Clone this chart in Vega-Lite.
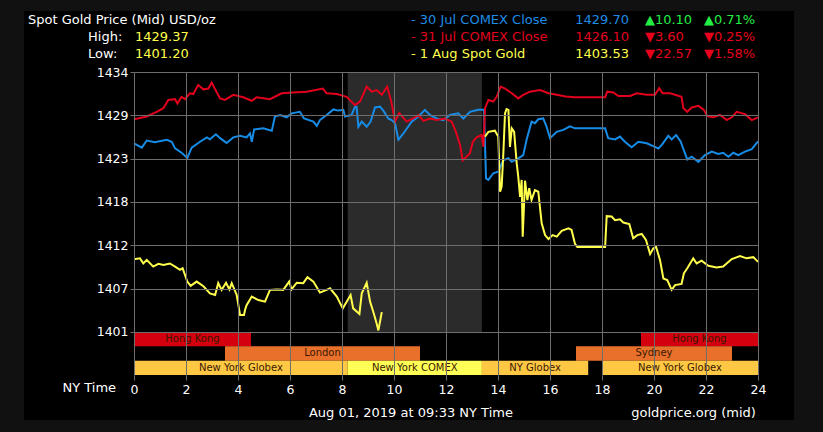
{
  "$schema": "https://vega.github.io/schema/vega-lite/v6.json",
  "width": 624,
  "height": 303,
  "autosize": {"type": "none"},
  "padding": {"left": 134, "top": 72, "right": 65, "bottom": 57},
  "background": "#111111",
  "config": {"view": {"stroke": null}, "font": "DejaVu Sans", "text": {"font": "DejaVu Sans"}},
  "resolve": {"scale": {"color": "independent"}},
  "encoding": {
    "x": {"field": "t", "type": "quantitative", "scale": {"domain": [0, 24], "nice": false, "zero": false},
      "axis": {"values": [0,2,4,6,8,10,12,14,16,18,20,22,24], "title": null, "grid": true, "gridColor": "#6e6e6e", "gridWidth": 1, "tickColor": "#6e6e6e", "tickSize": 5, "domain": false, "labelColor": "#ffffff", "labelFont": "DejaVu Sans", "labelFontSize": 12.5, "labelPadding": 3, "zindex": 1, "labelFlush": false}},
    "y": {"field": "p", "type": "quantitative", "scale": {"domain": [1395.5423, 1434], "nice": false, "zero": false},
      "axis": {"values": [1401, 1406.5, 1412, 1417.5, 1423, 1428.5, 1434], "labelExpr": "format(round(datum.value), 'd')", "title": null, "grid": true, "gridColor": "#6e6e6e", "gridWidth": 1, "tickColor": "#6e6e6e", "tickSize": 4, "domain": false, "labelColor": "#ffffff", "labelFont": "DejaVu Sans", "labelFontSize": 12.5, "labelPadding": 2, "zindex": 1, "labelFlush": false}}
  },
  "layer": [
    {
      "data": {"values": [{"t": -4.231, "t2": 25.385, "p": 1389.83, "p2": 1441.74}]},
      "mark": {"type": "rect", "color": "#000000"},
      "encoding": {"x2": {"field": "t2"}, "y2": {"field": "p2"}}
    },
    {
      "data": {"values": [{"t": 8.22, "t2": 13.38, "p": 1401, "p2": 1434}]},
      "mark": {"type": "rect", "color": "#2b2b2b"},
      "encoding": {"x2": {"field": "t2"}, "y2": {"field": "p2"}}
    },
    {
      "data": {"values": [
        {"name": "Hong Kong", "k": "HK", "t": 0, "t2": 4.5, "p": 1399.181, "p2": 1401},
        {"name": "Hong Kong", "k": "HK", "t": 19.5, "t2": 24, "p": 1399.181, "p2": 1401},
        {"name": "London", "k": "EU", "t": 3.5, "t2": 11.0, "p": 1397.362, "p2": 1399.181},
        {"name": "Sydney", "k": "EU", "t": 17.0, "t2": 23.0, "p": 1397.362, "p2": 1399.181},
        {"name": "New York Globex", "k": "GX", "t": 0, "t2": 8.22, "p": 1395.5423, "p2": 1397.362},
        {"name": "New York COMEX", "k": "CX", "t": 8.22, "t2": 13.38, "p": 1395.5423, "p2": 1397.362},
        {"name": "NY Globex", "k": "GX", "t": 13.38, "t2": 17.47, "p": 1395.5423, "p2": 1397.362},
        {"name": "New York Globex", "k": "GX", "t": 18.0, "t2": 24, "p": 1395.5423, "p2": 1397.362}
      ]},
      "transform": [
        {"calculate": "(datum.t + datum.t2) / 2", "as": "tm"},
        {"calculate": "(datum.p + datum.p2) / 2", "as": "pm"}
      ],
      "layer": [
        {
          "mark": {"type": "rect"},
          "encoding": {
            "x2": {"field": "t2"}, "y2": {"field": "p2"},
            "color": {"field": "k", "type": "nominal", "legend": null,
              "scale": {"domain": ["HK", "EU", "GX", "CX"], "range": ["#d4000f", "#e9702b", "#ffc844", "#ffff55"]}}
          }
        },
        {
          "mark": {"type": "text", "color": "#3a1800", "fontSize": 10, "align": "center", "baseline": "middle"},
          "encoding": {"x": {"field": "tm", "type": "quantitative"}, "y": {"field": "pm", "type": "quantitative"}, "text": {"field": "name"}}
        }
      ]
    },
    {
      "data": {"name": "lines"},
      "mark": {"type": "line", "strokeWidth": 2, "interpolate": "linear"},
      "encoding": {
        "detail": {"field": "g"},
        "color": {"field": "s", "type": "nominal", "legend": null,
          "scale": {"domain": ["30 Jul COMEX Close", "31 Jul COMEX Close", "1 Aug Spot Gold"], "range": ["#168ce6", "#e2001c", "#ffff4c"]}}
      }
    },
    {
      "data": {"values": [
        {"label": "Spot Gold Price (Mid) USD/oz", "t": -4.077, "p": 1440.54},
        {"label": "High:", "t": -1.769, "p": 1438.40},
        {"label": "Low:", "t": -1.769, "p": 1436.28},
        {"label": "Aug 01, 2019 at 09:33 NY Time", "t": 6.73, "p": 1390.72}
      ]},
      "mark": {"type": "text", "color": "#ffffff", "fontSize": 13, "align": "left", "baseline": "middle"},
      "encoding": {"text": {"field": "label"}}
    },
    {
      "data": {"values": [
        {"label": "1429.37", "t": 0.038, "p": 1438.40},
        {"label": "1401.20", "t": 0.038, "p": 1436.28}
      ]},
      "mark": {"type": "text", "color": "#ffff4c", "fontSize": 13, "align": "left", "baseline": "middle"},
      "encoding": {"text": {"field": "label"}}
    },
    {
      "data": {"values": [
        {"label": "- 30 Jul COMEX Close", "s": "30 Jul COMEX Close", "t": 10.654, "p": 1440.54},
        {"label": "- 31 Jul COMEX Close", "s": "31 Jul COMEX Close", "t": 10.654, "p": 1438.40},
        {"label": "- 1 Aug Spot Gold", "s": "1 Aug Spot Gold", "t": 10.654, "p": 1436.28}
      ]},
      "mark": {"type": "text", "fontSize": 13, "align": "left", "baseline": "middle"},
      "encoding": {"text": {"field": "label"},
        "color": {"field": "s", "type": "nominal", "legend": null,
          "scale": {"domain": ["30 Jul COMEX Close", "31 Jul COMEX Close", "1 Aug Spot Gold"], "range": ["#1e8ce6", "#e2001c", "#ffff4c"]}}}
    },
    {
      "data": {"values": [
        {"label": "1429.70", "s": "30 Jul COMEX Close", "t": 19.04, "p": 1440.54},
        {"label": "1426.10", "s": "31 Jul COMEX Close", "t": 19.04, "p": 1438.40},
        {"label": "1403.53", "s": "1 Aug Spot Gold", "t": 19.04, "p": 1436.28}
      ]},
      "mark": {"type": "text", "fontSize": 13, "align": "right", "baseline": "middle"},
      "encoding": {"text": {"field": "label"},
        "color": {"field": "s", "type": "nominal", "legend": null,
          "scale": {"domain": ["30 Jul COMEX Close", "31 Jul COMEX Close", "1 Aug Spot Gold"], "range": ["#1e8ce6", "#e2001c", "#ffff4c"]}}}
    },
    {
      "data": {"values": [
        {"label": "▲10.10", "t": 19.65, "p": 1440.54},
        {"label": "▲0.71%", "t": 21.92, "p": 1440.54}
      ]},
      "mark": {"type": "text", "color": "#22ee44", "fontSize": 13, "align": "left", "baseline": "middle"},
      "encoding": {"text": {"field": "label"}}
    },
    {
      "data": {"values": [
        {"label": "▼3.60", "t": 19.65, "p": 1438.40},
        {"label": "▼0.25%", "t": 21.92, "p": 1438.40},
        {"label": "▼22.57", "t": 19.65, "p": 1436.28},
        {"label": "▼1.58%", "t": 21.92, "p": 1436.28}
      ]},
      "mark": {"type": "text", "color": "#e8001c", "fontSize": 13, "align": "left", "baseline": "middle"},
      "encoding": {"text": {"field": "label"}}
    },
    {
      "data": {"values": [
        {"label": "NY Time", "t": -0.69, "p": 1393.89},
        {"label": "goldprice.org (mid)", "t": 23.92, "p": 1390.72}
      ]},
      "mark": {"type": "text", "color": "#ffffff", "fontSize": 13, "align": "right", "baseline": "middle"},
      "encoding": {"text": {"field": "label"}}
    }
  ],
  "datasets": {
    "lines": [
      {"s":"30 Jul COMEX Close","g":"30","t":0.0,"p":1424.95},{"s":"30 Jul COMEX Close","g":"30","t":0.3,"p":1424.4},{"s":"30 Jul COMEX Close","g":"30","t":0.49,"p":1425.3},{"s":"30 Jul COMEX Close","g":"30","t":0.8,"p":1425.1},{"s":"30 Jul COMEX Close","g":"30","t":1.26,"p":1425.4},{"s":"30 Jul COMEX Close","g":"30","t":1.45,"p":1425.15},{"s":"30 Jul COMEX Close","g":"30","t":1.58,"p":1424.3},{"s":"30 Jul COMEX Close","g":"30","t":1.83,"p":1423.75},{"s":"30 Jul COMEX Close","g":"30","t":2.05,"p":1423.1},{"s":"30 Jul COMEX Close","g":"30","t":2.22,"p":1424.4},{"s":"30 Jul COMEX Close","g":"30","t":2.54,"p":1425.15},{"s":"30 Jul COMEX Close","g":"30","t":2.8,"p":1425.7},{"s":"30 Jul COMEX Close","g":"30","t":2.92,"p":1425.45},{"s":"30 Jul COMEX Close","g":"30","t":3.15,"p":1426.1},{"s":"30 Jul COMEX Close","g":"30","t":3.31,"p":1425.6},{"s":"30 Jul COMEX Close","g":"30","t":3.56,"p":1425.0},{"s":"30 Jul COMEX Close","g":"30","t":3.82,"p":1425.7},{"s":"30 Jul COMEX Close","g":"30","t":4.08,"p":1425.9},{"s":"30 Jul COMEX Close","g":"30","t":4.33,"p":1425.7},{"s":"30 Jul COMEX Close","g":"30","t":4.46,"p":1426.2},{"s":"30 Jul COMEX Close","g":"30","t":4.53,"p":1425.15},{"s":"30 Jul COMEX Close","g":"30","t":4.62,"p":1426.7},{"s":"30 Jul COMEX Close","g":"30","t":4.97,"p":1426.85},{"s":"30 Jul COMEX Close","g":"30","t":5.3,"p":1426.55},{"s":"30 Jul COMEX Close","g":"30","t":5.42,"p":1428.35},{"s":"30 Jul COMEX Close","g":"30","t":5.62,"p":1428.55},{"s":"30 Jul COMEX Close","g":"30","t":5.87,"p":1428.25},{"s":"30 Jul COMEX Close","g":"30","t":6.06,"p":1428.75},{"s":"30 Jul COMEX Close","g":"30","t":6.38,"p":1428.95},{"s":"30 Jul COMEX Close","g":"30","t":6.54,"p":1428.1},{"s":"30 Jul COMEX Close","g":"30","t":6.9,"p":1427.7},{"s":"30 Jul COMEX Close","g":"30","t":7.03,"p":1427.15},{"s":"30 Jul COMEX Close","g":"30","t":7.15,"p":1427.9},{"s":"30 Jul COMEX Close","g":"30","t":7.41,"p":1428.55},{"s":"30 Jul COMEX Close","g":"30","t":7.67,"p":1429.25},{"s":"30 Jul COMEX Close","g":"30","t":7.86,"p":1429.1},{"s":"30 Jul COMEX Close","g":"30","t":8.05,"p":1429.2},{"s":"30 Jul COMEX Close","g":"30","t":8.12,"p":1428.35},{"s":"30 Jul COMEX Close","g":"30","t":8.37,"p":1428.55},{"s":"30 Jul COMEX Close","g":"30","t":8.5,"p":1429.6},{"s":"30 Jul COMEX Close","g":"30","t":8.56,"p":1429.6},{"s":"30 Jul COMEX Close","g":"30","t":8.63,"p":1427.05},{"s":"30 Jul COMEX Close","g":"30","t":8.76,"p":1427.7},{"s":"30 Jul COMEX Close","g":"30","t":8.95,"p":1427.05},{"s":"30 Jul COMEX Close","g":"30","t":9.1,"p":1427.7},{"s":"30 Jul COMEX Close","g":"30","t":9.27,"p":1429.5},{"s":"30 Jul COMEX Close","g":"30","t":9.46,"p":1429.6},{"s":"30 Jul COMEX Close","g":"30","t":9.59,"p":1429.1},{"s":"30 Jul COMEX Close","g":"30","t":9.78,"p":1428.1},{"s":"30 Jul COMEX Close","g":"30","t":9.91,"p":1427.9},{"s":"30 Jul COMEX Close","g":"30","t":10.04,"p":1427.5},{"s":"30 Jul COMEX Close","g":"30","t":10.17,"p":1425.4},{"s":"30 Jul COMEX Close","g":"30","t":10.36,"p":1426.2},{"s":"30 Jul COMEX Close","g":"30","t":10.68,"p":1427.7},{"s":"30 Jul COMEX Close","g":"30","t":10.94,"p":1428.35},{"s":"30 Jul COMEX Close","g":"30","t":11.19,"p":1429.2},{"s":"30 Jul COMEX Close","g":"30","t":11.38,"p":1428.55},{"s":"30 Jul COMEX Close","g":"30","t":11.64,"p":1428.1},{"s":"30 Jul COMEX Close","g":"30","t":11.9,"p":1427.9},{"s":"30 Jul COMEX Close","g":"30","t":12.15,"p":1428.55},{"s":"30 Jul COMEX Close","g":"30","t":12.47,"p":1428.75},{"s":"30 Jul COMEX Close","g":"30","t":12.67,"p":1428.1},{"s":"30 Jul COMEX Close","g":"30","t":12.92,"p":1428.95},{"s":"30 Jul COMEX Close","g":"30","t":13.24,"p":1429.2},{"s":"30 Jul COMEX Close","g":"30","t":13.46,"p":1429.2},{"s":"30 Jul COMEX Close","g":"30","t":13.54,"p":1420.5},{"s":"30 Jul COMEX Close","g":"30","t":13.63,"p":1420.3},{"s":"30 Jul COMEX Close","g":"30","t":13.82,"p":1421.15},{"s":"30 Jul COMEX Close","g":"30","t":14.01,"p":1421.35},{"s":"30 Jul COMEX Close","g":"30","t":14.2,"p":1422.8},{"s":"30 Jul COMEX Close","g":"30","t":14.4,"p":1423.05},{"s":"30 Jul COMEX Close","g":"30","t":14.53,"p":1422.6},{"s":"30 Jul COMEX Close","g":"30","t":14.78,"p":1423.05},{"s":"30 Jul COMEX Close","g":"30","t":14.97,"p":1423.45},{"s":"30 Jul COMEX Close","g":"30","t":15.1,"p":1425.4},{"s":"30 Jul COMEX Close","g":"30","t":15.29,"p":1427.7},{"s":"30 Jul COMEX Close","g":"30","t":15.42,"p":1427.5},{"s":"30 Jul COMEX Close","g":"30","t":15.55,"p":1428.0},{"s":"30 Jul COMEX Close","g":"30","t":15.74,"p":1428.1},{"s":"30 Jul COMEX Close","g":"30","t":15.87,"p":1427.05},{"s":"30 Jul COMEX Close","g":"30","t":16.0,"p":1425.6},{"s":"30 Jul COMEX Close","g":"30","t":16.26,"p":1426.4},{"s":"30 Jul COMEX Close","g":"30","t":16.51,"p":1426.65},{"s":"30 Jul COMEX Close","g":"30","t":16.77,"p":1427.1},{"s":"30 Jul COMEX Close","g":"30","t":16.96,"p":1426.85},{"s":"30 Jul COMEX Close","g":"30","t":18.12,"p":1426.85},{"s":"30 Jul COMEX Close","g":"30","t":18.24,"p":1425.6},{"s":"30 Jul COMEX Close","g":"30","t":18.5,"p":1425.45},{"s":"30 Jul COMEX Close","g":"30","t":18.69,"p":1425.8},{"s":"30 Jul COMEX Close","g":"30","t":18.88,"p":1425.15},{"s":"30 Jul COMEX Close","g":"30","t":19.14,"p":1424.45},{"s":"30 Jul COMEX Close","g":"30","t":19.4,"p":1425.15},{"s":"30 Jul COMEX Close","g":"30","t":19.72,"p":1424.95},{"s":"30 Jul COMEX Close","g":"30","t":19.97,"p":1424.6},{"s":"30 Jul COMEX Close","g":"30","t":20.17,"p":1424.3},{"s":"30 Jul COMEX Close","g":"30","t":20.3,"p":1424.75},{"s":"30 Jul COMEX Close","g":"30","t":20.55,"p":1425.9},{"s":"30 Jul COMEX Close","g":"30","t":20.68,"p":1425.45},{"s":"30 Jul COMEX Close","g":"30","t":20.85,"p":1426.0},{"s":"30 Jul COMEX Close","g":"30","t":21.03,"p":1425.15},{"s":"30 Jul COMEX Close","g":"30","t":21.13,"p":1424.2},{"s":"30 Jul COMEX Close","g":"30","t":21.28,"p":1422.9},{"s":"30 Jul COMEX Close","g":"30","t":21.45,"p":1423.25},{"s":"30 Jul COMEX Close","g":"30","t":21.71,"p":1422.6},{"s":"30 Jul COMEX Close","g":"30","t":21.96,"p":1423.45},{"s":"30 Jul COMEX Close","g":"30","t":22.22,"p":1423.9},{"s":"30 Jul COMEX Close","g":"30","t":22.47,"p":1423.6},{"s":"30 Jul COMEX Close","g":"30","t":22.66,"p":1423.75},{"s":"30 Jul COMEX Close","g":"30","t":22.86,"p":1423.25},{"s":"30 Jul COMEX Close","g":"30","t":23.05,"p":1423.75},{"s":"30 Jul COMEX Close","g":"30","t":23.24,"p":1423.45},{"s":"30 Jul COMEX Close","g":"30","t":23.5,"p":1423.9},{"s":"30 Jul COMEX Close","g":"30","t":23.76,"p":1424.2},{"s":"30 Jul COMEX Close","g":"30","t":24.0,"p":1425.2},

      {"s":"31 Jul COMEX Close","g":"31","t":0.0,"p":1428.0},{"s":"31 Jul COMEX Close","g":"31","t":0.49,"p":1428.35},{"s":"31 Jul COMEX Close","g":"31","t":0.87,"p":1428.95},{"s":"31 Jul COMEX Close","g":"31","t":1.13,"p":1429.4},{"s":"31 Jul COMEX Close","g":"31","t":1.32,"p":1430.45},{"s":"31 Jul COMEX Close","g":"31","t":1.58,"p":1430.55},{"s":"31 Jul COMEX Close","g":"31","t":1.67,"p":1430.0},{"s":"31 Jul COMEX Close","g":"31","t":1.83,"p":1430.85},{"s":"31 Jul COMEX Close","g":"31","t":1.96,"p":1430.55},{"s":"31 Jul COMEX Close","g":"31","t":2.15,"p":1431.3},{"s":"31 Jul COMEX Close","g":"31","t":2.28,"p":1431.2},{"s":"31 Jul COMEX Close","g":"31","t":2.47,"p":1432.35},{"s":"31 Jul COMEX Close","g":"31","t":2.67,"p":1431.8},{"s":"31 Jul COMEX Close","g":"31","t":2.86,"p":1431.9},{"s":"31 Jul COMEX Close","g":"31","t":2.99,"p":1432.65},{"s":"31 Jul COMEX Close","g":"31","t":3.12,"p":1431.8},{"s":"31 Jul COMEX Close","g":"31","t":3.31,"p":1430.65},{"s":"31 Jul COMEX Close","g":"31","t":3.5,"p":1430.45},{"s":"31 Jul COMEX Close","g":"31","t":3.82,"p":1431.1},{"s":"31 Jul COMEX Close","g":"31","t":4.2,"p":1430.8},{"s":"31 Jul COMEX Close","g":"31","t":4.53,"p":1430.35},{"s":"31 Jul COMEX Close","g":"31","t":4.72,"p":1430.8},{"s":"31 Jul COMEX Close","g":"31","t":5.23,"p":1430.55},{"s":"31 Jul COMEX Close","g":"31","t":5.68,"p":1431.3},{"s":"31 Jul COMEX Close","g":"31","t":6.13,"p":1431.4},{"s":"31 Jul COMEX Close","g":"31","t":6.64,"p":1431.5},{"s":"31 Jul COMEX Close","g":"31","t":7.26,"p":1431.9},{"s":"31 Jul COMEX Close","g":"31","t":7.41,"p":1431.3},{"s":"31 Jul COMEX Close","g":"31","t":7.8,"p":1431.2},{"s":"31 Jul COMEX Close","g":"31","t":8.18,"p":1430.85},{"s":"31 Jul COMEX Close","g":"31","t":8.5,"p":1429.8},{"s":"31 Jul COMEX Close","g":"31","t":8.69,"p":1430.25},{"s":"31 Jul COMEX Close","g":"31","t":8.95,"p":1432.15},{"s":"31 Jul COMEX Close","g":"31","t":9.14,"p":1431.5},{"s":"31 Jul COMEX Close","g":"31","t":9.33,"p":1431.7},{"s":"31 Jul COMEX Close","g":"31","t":9.53,"p":1431.1},{"s":"31 Jul COMEX Close","g":"31","t":9.74,"p":1432.15},{"s":"31 Jul COMEX Close","g":"31","t":9.91,"p":1430.0},{"s":"31 Jul COMEX Close","g":"31","t":10.04,"p":1427.7},{"s":"31 Jul COMEX Close","g":"31","t":10.2,"p":1428.8},{"s":"31 Jul COMEX Close","g":"31","t":10.49,"p":1427.7},{"s":"31 Jul COMEX Close","g":"31","t":10.74,"p":1428.1},{"s":"31 Jul COMEX Close","g":"31","t":10.94,"p":1428.55},{"s":"31 Jul COMEX Close","g":"31","t":11.13,"p":1427.8},{"s":"31 Jul COMEX Close","g":"31","t":11.38,"p":1428.1},{"s":"31 Jul COMEX Close","g":"31","t":11.64,"p":1427.9},{"s":"31 Jul COMEX Close","g":"31","t":11.96,"p":1428.1},{"s":"31 Jul COMEX Close","g":"31","t":12.22,"p":1427.7},{"s":"31 Jul COMEX Close","g":"31","t":12.38,"p":1426.4},{"s":"31 Jul COMEX Close","g":"31","t":12.54,"p":1424.75},{"s":"31 Jul COMEX Close","g":"31","t":12.64,"p":1422.8},{"s":"31 Jul COMEX Close","g":"31","t":12.79,"p":1423.25},{"s":"31 Jul COMEX Close","g":"31","t":12.92,"p":1423.7},{"s":"31 Jul COMEX Close","g":"31","t":13.03,"p":1425.15},{"s":"31 Jul COMEX Close","g":"31","t":13.18,"p":1425.7},{"s":"31 Jul COMEX Close","g":"31","t":13.37,"p":1426.0},{"s":"31 Jul COMEX Close","g":"31","t":13.44,"p":1424.5},{"s":"31 Jul COMEX Close","g":"31","t":13.5,"p":1429.4},{"s":"31 Jul COMEX Close","g":"31","t":13.63,"p":1430.45},{"s":"31 Jul COMEX Close","g":"31","t":13.82,"p":1430.25},{"s":"31 Jul COMEX Close","g":"31","t":13.95,"p":1430.85},{"s":"31 Jul COMEX Close","g":"31","t":14.1,"p":1432.15},{"s":"31 Jul COMEX Close","g":"31","t":14.27,"p":1431.9},{"s":"31 Jul COMEX Close","g":"31","t":14.53,"p":1431.3},{"s":"31 Jul COMEX Close","g":"31","t":14.78,"p":1430.65},{"s":"31 Jul COMEX Close","g":"31","t":14.97,"p":1431.1},{"s":"31 Jul COMEX Close","g":"31","t":15.23,"p":1431.5},{"s":"31 Jul COMEX Close","g":"31","t":15.62,"p":1431.7},{"s":"31 Jul COMEX Close","g":"31","t":15.94,"p":1431.3},{"s":"31 Jul COMEX Close","g":"31","t":16.26,"p":1431.1},{"s":"31 Jul COMEX Close","g":"31","t":16.6,"p":1430.9},{"s":"31 Jul COMEX Close","g":"31","t":16.96,"p":1430.8},{"s":"31 Jul COMEX Close","g":"31","t":18.12,"p":1430.8},{"s":"31 Jul COMEX Close","g":"31","t":18.2,"p":1431.5},{"s":"31 Jul COMEX Close","g":"31","t":18.44,"p":1431.4},{"s":"31 Jul COMEX Close","g":"31","t":18.63,"p":1430.95},{"s":"31 Jul COMEX Close","g":"31","t":19.08,"p":1430.95},{"s":"31 Jul COMEX Close","g":"31","t":19.33,"p":1431.3},{"s":"31 Jul COMEX Close","g":"31","t":19.72,"p":1431.1},{"s":"31 Jul COMEX Close","g":"31","t":20.04,"p":1431.1},{"s":"31 Jul COMEX Close","g":"31","t":20.2,"p":1431.95},{"s":"31 Jul COMEX Close","g":"31","t":20.33,"p":1431.3},{"s":"31 Jul COMEX Close","g":"31","t":20.62,"p":1431.3},{"s":"31 Jul COMEX Close","g":"31","t":21.06,"p":1430.85},{"s":"31 Jul COMEX Close","g":"31","t":21.13,"p":1429.4},{"s":"31 Jul COMEX Close","g":"31","t":21.28,"p":1428.95},{"s":"31 Jul COMEX Close","g":"31","t":21.45,"p":1429.5},{"s":"31 Jul COMEX Close","g":"31","t":21.71,"p":1429.7},{"s":"31 Jul COMEX Close","g":"31","t":21.92,"p":1429.2},{"s":"31 Jul COMEX Close","g":"31","t":22.05,"p":1428.4},{"s":"31 Jul COMEX Close","g":"31","t":22.28,"p":1428.25},{"s":"31 Jul COMEX Close","g":"31","t":22.54,"p":1428.55},{"s":"31 Jul COMEX Close","g":"31","t":22.8,"p":1427.9},{"s":"31 Jul COMEX Close","g":"31","t":22.99,"p":1428.25},{"s":"31 Jul COMEX Close","g":"31","t":23.18,"p":1428.95},{"s":"31 Jul COMEX Close","g":"31","t":23.5,"p":1428.65},{"s":"31 Jul COMEX Close","g":"31","t":23.76,"p":1427.9},{"s":"31 Jul COMEX Close","g":"31","t":24.0,"p":1428.25},

      {"s":"1 Aug Spot Gold","g":"1a","t":0.0,"p":1410.23},{"s":"1 Aug Spot Gold","g":"1a","t":0.23,"p":1410.35},{"s":"1 Aug Spot Gold","g":"1a","t":0.36,"p":1409.7},{"s":"1 Aug Spot Gold","g":"1a","t":0.49,"p":1410.15},{"s":"1 Aug Spot Gold","g":"1a","t":0.74,"p":1409.3},{"s":"1 Aug Spot Gold","g":"1a","t":0.94,"p":1409.65},{"s":"1 Aug Spot Gold","g":"1a","t":1.13,"p":1409.5},{"s":"1 Aug Spot Gold","g":"1a","t":1.38,"p":1409.7},{"s":"1 Aug Spot Gold","g":"1a","t":1.58,"p":1409.3},{"s":"1 Aug Spot Gold","g":"1a","t":1.77,"p":1408.9},{"s":"1 Aug Spot Gold","g":"1a","t":1.87,"p":1409.1},{"s":"1 Aug Spot Gold","g":"1a","t":2.05,"p":1407.4},{"s":"1 Aug Spot Gold","g":"1a","t":2.18,"p":1406.85},{"s":"1 Aug Spot Gold","g":"1a","t":2.41,"p":1407.4},{"s":"1 Aug Spot Gold","g":"1a","t":2.67,"p":1406.8},{"s":"1 Aug Spot Gold","g":"1a","t":2.92,"p":1405.9},{"s":"1 Aug Spot Gold","g":"1a","t":3.12,"p":1405.7},{"s":"1 Aug Spot Gold","g":"1a","t":3.24,"p":1407.2},{"s":"1 Aug Spot Gold","g":"1a","t":3.37,"p":1406.35},{"s":"1 Aug Spot Gold","g":"1a","t":3.54,"p":1407.25},{"s":"1 Aug Spot Gold","g":"1a","t":3.67,"p":1406.4},{"s":"1 Aug Spot Gold","g":"1a","t":3.76,"p":1407.2},{"s":"1 Aug Spot Gold","g":"1a","t":3.95,"p":1405.7},{"s":"1 Aug Spot Gold","g":"1a","t":4.08,"p":1403.15},{"s":"1 Aug Spot Gold","g":"1a","t":4.23,"p":1403.15},{"s":"1 Aug Spot Gold","g":"1a","t":4.27,"p":1403.8},{"s":"1 Aug Spot Gold","g":"1a","t":4.33,"p":1404.4},{"s":"1 Aug Spot Gold","g":"1a","t":4.53,"p":1405.5},{"s":"1 Aug Spot Gold","g":"1a","t":4.78,"p":1405.05},{"s":"1 Aug Spot Gold","g":"1a","t":5.04,"p":1404.85},{"s":"1 Aug Spot Gold","g":"1a","t":5.23,"p":1406.35},{"s":"1 Aug Spot Gold","g":"1a","t":5.49,"p":1406.4},{"s":"1 Aug Spot Gold","g":"1a","t":5.74,"p":1406.35},{"s":"1 Aug Spot Gold","g":"1a","t":5.97,"p":1407.4},{"s":"1 Aug Spot Gold","g":"1a","t":6.06,"p":1406.4},{"s":"1 Aug Spot Gold","g":"1a","t":6.26,"p":1407.25},{"s":"1 Aug Spot Gold","g":"1a","t":6.51,"p":1407.2},{"s":"1 Aug Spot Gold","g":"1a","t":6.67,"p":1407.95},{"s":"1 Aug Spot Gold","g":"1a","t":6.9,"p":1407.4},{"s":"1 Aug Spot Gold","g":"1a","t":7.15,"p":1406.0},{"s":"1 Aug Spot Gold","g":"1a","t":7.41,"p":1406.35},{"s":"1 Aug Spot Gold","g":"1a","t":7.54,"p":1406.55},{"s":"1 Aug Spot Gold","g":"1a","t":7.8,"p":1405.5},{"s":"1 Aug Spot Gold","g":"1a","t":8.03,"p":1404.0},{"s":"1 Aug Spot Gold","g":"1a","t":8.18,"p":1404.85},{"s":"1 Aug Spot Gold","g":"1a","t":8.33,"p":1405.7},{"s":"1 Aug Spot Gold","g":"1a","t":8.43,"p":1404.0},{"s":"1 Aug Spot Gold","g":"1a","t":8.67,"p":1403.3},{"s":"1 Aug Spot Gold","g":"1a","t":8.76,"p":1405.9},{"s":"1 Aug Spot Gold","g":"1a","t":8.95,"p":1407.25},{"s":"1 Aug Spot Gold","g":"1a","t":9.08,"p":1404.85},{"s":"1 Aug Spot Gold","g":"1a","t":9.2,"p":1403.6},{"s":"1 Aug Spot Gold","g":"1a","t":9.33,"p":1402.1},{"s":"1 Aug Spot Gold","g":"1a","t":9.4,"p":1401.2},{"s":"1 Aug Spot Gold","g":"1a","t":9.53,"p":1403.53},

      {"s":"1 Aug Spot Gold","g":"1b","t":13.5,"p":1425.8},{"s":"1 Aug Spot Gold","g":"1b","t":13.63,"p":1426.4},{"s":"1 Aug Spot Gold","g":"1b","t":13.88,"p":1426.55},{"s":"1 Aug Spot Gold","g":"1b","t":14.01,"p":1425.8},{"s":"1 Aug Spot Gold","g":"1b","t":14.08,"p":1418.8},{"s":"1 Aug Spot Gold","g":"1b","t":14.14,"p":1419.45},{"s":"1 Aug Spot Gold","g":"1b","t":14.2,"p":1423.25},{"s":"1 Aug Spot Gold","g":"1b","t":14.27,"p":1428.75},{"s":"1 Aug Spot Gold","g":"1b","t":14.33,"p":1429.3},{"s":"1 Aug Spot Gold","g":"1b","t":14.4,"p":1429.2},{"s":"1 Aug Spot Gold","g":"1b","t":14.46,"p":1424.5},{"s":"1 Aug Spot Gold","g":"1b","t":14.53,"p":1426.85},{"s":"1 Aug Spot Gold","g":"1b","t":14.62,"p":1426.4},{"s":"1 Aug Spot Gold","g":"1b","t":14.72,"p":1422.4},{"s":"1 Aug Spot Gold","g":"1b","t":14.78,"p":1420.7},{"s":"1 Aug Spot Gold","g":"1b","t":14.85,"p":1418.15},{"s":"1 Aug Spot Gold","g":"1b","t":14.91,"p":1420.3},{"s":"1 Aug Spot Gold","g":"1b","t":14.95,"p":1413.1},{"s":"1 Aug Spot Gold","g":"1b","t":15.04,"p":1420.2},{"s":"1 Aug Spot Gold","g":"1b","t":15.13,"p":1417.75},{"s":"1 Aug Spot Gold","g":"1b","t":15.2,"p":1419.25},{"s":"1 Aug Spot Gold","g":"1b","t":15.29,"p":1417.75},{"s":"1 Aug Spot Gold","g":"1b","t":15.42,"p":1419.0},{"s":"1 Aug Spot Gold","g":"1b","t":15.55,"p":1418.8},{"s":"1 Aug Spot Gold","g":"1b","t":15.68,"p":1414.8},{"s":"1 Aug Spot Gold","g":"1b","t":15.81,"p":1413.3},{"s":"1 Aug Spot Gold","g":"1b","t":15.94,"p":1412.8},{"s":"1 Aug Spot Gold","g":"1b","t":16.1,"p":1413.3},{"s":"1 Aug Spot Gold","g":"1b","t":16.26,"p":1413.1},{"s":"1 Aug Spot Gold","g":"1b","t":16.45,"p":1413.85},{"s":"1 Aug Spot Gold","g":"1b","t":16.71,"p":1414.15},{"s":"1 Aug Spot Gold","g":"1b","t":16.83,"p":1413.95},{"s":"1 Aug Spot Gold","g":"1b","t":16.96,"p":1412.2},{"s":"1 Aug Spot Gold","g":"1b","t":17.05,"p":1411.8},{"s":"1 Aug Spot Gold","g":"1b","t":18.12,"p":1411.8},{"s":"1 Aug Spot Gold","g":"1b","t":18.18,"p":1415.7},{"s":"1 Aug Spot Gold","g":"1b","t":18.37,"p":1415.65},{"s":"1 Aug Spot Gold","g":"1b","t":18.5,"p":1415.2},{"s":"1 Aug Spot Gold","g":"1b","t":18.69,"p":1415.3},{"s":"1 Aug Spot Gold","g":"1b","t":18.82,"p":1414.9},{"s":"1 Aug Spot Gold","g":"1b","t":19.05,"p":1414.7},{"s":"1 Aug Spot Gold","g":"1b","t":19.2,"p":1412.9},{"s":"1 Aug Spot Gold","g":"1b","t":19.36,"p":1413.3},{"s":"1 Aug Spot Gold","g":"1b","t":19.53,"p":1413.45},{"s":"1 Aug Spot Gold","g":"1b","t":19.69,"p":1412.7},{"s":"1 Aug Spot Gold","g":"1b","t":19.85,"p":1410.9},{"s":"1 Aug Spot Gold","g":"1b","t":19.97,"p":1411.6},{"s":"1 Aug Spot Gold","g":"1b","t":20.08,"p":1411.8},{"s":"1 Aug Spot Gold","g":"1b","t":20.23,"p":1410.15},{"s":"1 Aug Spot Gold","g":"1b","t":20.36,"p":1407.8},{"s":"1 Aug Spot Gold","g":"1b","t":20.51,"p":1407.6},{"s":"1 Aug Spot Gold","g":"1b","t":20.68,"p":1406.35},{"s":"1 Aug Spot Gold","g":"1b","t":20.81,"p":1406.95},{"s":"1 Aug Spot Gold","g":"1b","t":21.06,"p":1407.1},{"s":"1 Aug Spot Gold","g":"1b","t":21.15,"p":1408.45},{"s":"1 Aug Spot Gold","g":"1b","t":21.28,"p":1409.1},{"s":"1 Aug Spot Gold","g":"1b","t":21.51,"p":1410.35},{"s":"1 Aug Spot Gold","g":"1b","t":21.64,"p":1409.7},{"s":"1 Aug Spot Gold","g":"1b","t":21.83,"p":1410.05},{"s":"1 Aug Spot Gold","g":"1b","t":22.09,"p":1409.4},{"s":"1 Aug Spot Gold","g":"1b","t":22.41,"p":1409.2},{"s":"1 Aug Spot Gold","g":"1b","t":22.66,"p":1409.3},{"s":"1 Aug Spot Gold","g":"1b","t":22.99,"p":1410.25},{"s":"1 Aug Spot Gold","g":"1b","t":23.31,"p":1410.65},{"s":"1 Aug Spot Gold","g":"1b","t":23.56,"p":1410.35},{"s":"1 Aug Spot Gold","g":"1b","t":23.82,"p":1410.5},{"s":"1 Aug Spot Gold","g":"1b","t":24.0,"p":1409.9}
    ]
  }
}
